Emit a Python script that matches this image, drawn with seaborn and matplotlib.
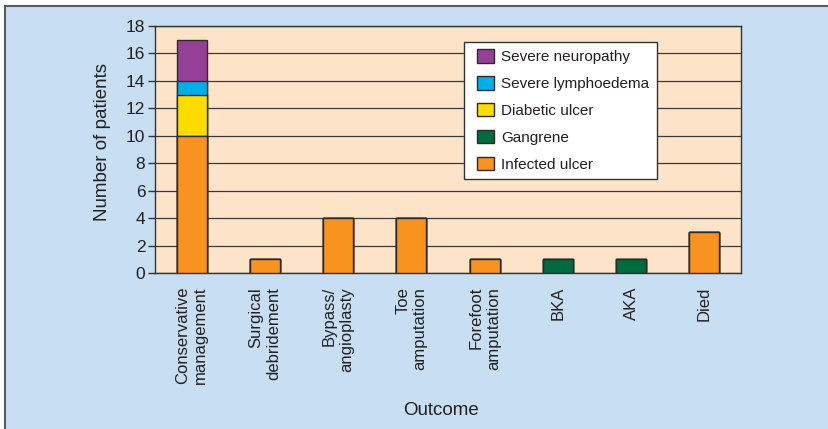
import pandas as pd
import matplotlib.pyplot as plt
import seaborn as sns
import numpy as np
from matplotlib.patches import Patch, Rectangle
from matplotlib.legend_handler import HandlerPatch

# dati
categories = ['Conservative\nmanagement', 'Surgical\ndebridement', 'Bypass/\nangioplasty',
              'Toe\namputation', 'Forefoot\namputation', 'BKA', 'AKA', 'Died']
infected_ulcer = [10, 1, 4, 4, 1, 0, 0, 3]
gangrene = [0, 0, 0, 0, 0, 1, 1, 0]
diabetic_ulcer = [3, 0, 0, 0, 0, 0, 0, 0]
severe_lymphoedema = [1, 0, 0, 0, 0, 0, 0, 0]
severe_neuropathy = [3, 0, 0, 0, 0, 0, 0, 0]

layers = ['Infected ulcer', 'Gangrene', 'Diabetic ulcer', 'Severe lymphoedema', 'Severe neuropathy']
values = [infected_ulcer, gangrene, diabetic_ulcer, severe_lymphoedema, severe_neuropathy]
colors = {'Infected ulcer': '#f7931e', 'Gangrene': '#006b3f', 'Diabetic ulcer': '#ffdc00',
          'Severe lymphoedema': '#00aeea', 'Severe neuropathy': '#953f96'}

df = pd.DataFrame(dict(zip(layers, values)), index=categories)
cum = df.cumsum(axis=1)

sns.set_style('white')
plt.rcParams['font.family'] = ['Liberation Sans', 'DejaVu Sans']
txt = '#231f20'

fig = plt.figure(figsize=(8.29, 4.29), dpi=100)
fig.patch.set_facecolor('white')
fig.add_artist(Rectangle((5 / 829, -0.1), 1.2, 1.1 - 6 / 429, transform=fig.transFigure,
                         facecolor='#c8dff3', edgecolor='#5a5a5a', lw=1.5, zorder=-10))
ax = fig.add_axes([155 / 829, 1 - 273 / 429, 586 / 829, 247 / 429])
ax.set_facecolor('#fde4c9')

# barre impilate: si disegnano i cumulativi dall'alto verso il basso
for layer in layers[::-1]:
    d = pd.DataFrame({'cat': categories, 'val': cum[layer].values})
    sns.barplot(data=d, x='cat', y='val', color=colors[layer], width=0.41,
                edgecolor='#2b2b2b', linewidth=1.0, saturation=1, ax=ax, zorder=3)

ax.set_ylim(0, 18)
ax.set_xlim(-0.5, len(categories) - 0.5)
ax.set_yticks(np.arange(0, 19, 2))
ax.yaxis.grid(True, color='#3a3a3a', lw=0.9)
ax.set_axisbelow(True)
for s in ax.spines.values():
    s.set_color('#333333')
    s.set_linewidth(1.0)

ax.tick_params(axis='y', direction='out', length=5, width=1, color='#333333',
               labelsize=12.5, labelcolor=txt, left=True, pad=2)
ax.set_xticks(range(len(categories)))
ax.set_xticklabels(categories, rotation=90, ha='center', va='top', ma='right',
                   fontsize=12, color=txt)
ax.tick_params(axis='x', length=0, pad=10)
ax.set_xticks(np.arange(-0.5, len(categories), 1), minor=True)
ax.tick_params(axis='x', which='minor', direction='out', length=6, width=1, color='#333333')

ax.set_ylabel('Number of patients', fontsize=13.5, color=txt, labelpad=11)
ax.yaxis.label.set_y(0.53)
ax.set_xlabel('Outcome', fontsize=13.5, color=txt, labelpad=13)
ax.xaxis.label.set_x(0.488)


# quadratino della legenda spostato a destra dentro l'area della maniglia
def box_handle(legend, orig_handle, xdescent, ydescent, width, height, fontsize):
    w, h = 12, 9.6
    return Rectangle((width - w - xdescent, (height - h) / 2 - ydescent), w, h)


handles = [Patch(facecolor=colors[l], edgecolor='#2b2b2b', lw=1.0) for l in layers[::-1]]
leg = ax.legend(handles, layers[::-1], loc='upper left', bbox_to_anchor=(0.527, 0.935),
                frameon=True, fancybox=False, fontsize=11, handlelength=1.45,
                handleheight=0.9, labelspacing=0.8, borderpad=0.5, handletextpad=0.5,
                borderaxespad=0, handler_map={Patch: HandlerPatch(patch_func=box_handle)})
leg.get_frame().set_edgecolor('#333333')
leg.get_frame().set_linewidth(1.0)
leg.get_frame().set_facecolor('white')
leg.get_frame().set_alpha(1)
for t in leg.get_texts():
    t.set_color(txt)

fig.savefig('out.png', dpi=100)
